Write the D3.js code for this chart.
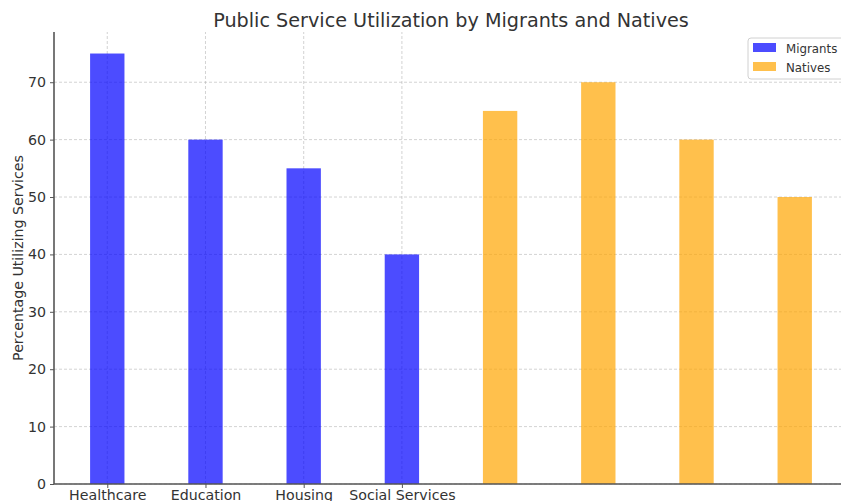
<!DOCTYPE html>
<html>
<head>
<meta charset="utf-8">
<script src="https://cdn.jsdelivr.net/npm/d3@7"></script>
<style>
  html, body { margin: 0; padding: 0; background: #fff; }
  svg { display: block; font-family: "DejaVu Sans", sans-serif; }
</style>
</head>
<body>
<svg id="chart" width="841" height="501"></svg>
<script>
// Services and survey shares (percent using each service)
const services = ["Healthcare", "Education", "Housing", "Social Services"];
const migrants = [75, 60, 55, 40];
const natives = [65, 70, 60, 50];
const yTicks = [0, 10, 20, 30, 40, 50, 60, 70];

// Bars sit at consecutive slots: migrants first, then natives
const bars = [
  ...migrants.map((v, i) => ({ slot: i, value: v, group: "Migrants" })),
  ...natives.map((v, i) => ({ slot: services.length + i, value: v, group: "Natives" }))
];
const colors = { Migrants: "#0000ff", Natives: "#ffa500" };

const svg = d3.select("#chart");
const margin = { left: 54, top: 32, right: -7, bottom: 17 };
const W = 841, H = 501;
const x0 = margin.left, x1 = W - margin.right;
const y0 = H - margin.bottom, y1 = margin.top;

const barWidth = 0.35;
const nSlots = bars.length;
const pad = (nSlots - 1 + barWidth) * 0.05;
const x = d3.scaleLinear()
  .domain([-barWidth / 2 - pad, nSlots - 1 + barWidth / 2 + pad])
  .range([x0, x1]);
const y = d3.scaleLinear().domain([0, 75 * 1.05]).range([y0, y1]);

const gridColor = "#b0b0b0";

// Grid lines
const grid = svg.append("g");
grid.selectAll("line.h").data(yTicks).join("line")
  .attr("x1", x0).attr("x2", x1)
  .attr("y1", d => y(d)).attr("y2", d => y(d))
  .attr("stroke", gridColor).attr("stroke-opacity", 0.7)
  .attr("stroke-width", 0.8).attr("stroke-dasharray", "3,2");
grid.selectAll("line.v").data(services.map((s, i) => i)).join("line")
  .attr("x1", d => x(d)).attr("x2", d => x(d))
  .attr("y1", y0).attr("y2", y1)
  .attr("stroke", gridColor).attr("stroke-opacity", 0.7)
  .attr("stroke-width", 0.8).attr("stroke-dasharray", "3,2");

// Bars
svg.append("g").selectAll("rect").data(bars).join("rect")
  .attr("x", d => x(d.slot - barWidth / 2))
  .attr("width", d => x(d.slot + barWidth / 2) - x(d.slot - barWidth / 2))
  .attr("y", d => y(d.value))
  .attr("height", d => y(0) - y(d.value))
  .attr("fill", d => colors[d.group])
  .attr("fill-opacity", 0.7);

// Axes
const textColor = "#333333";
const spineColor = "#555555";

const yAxis = svg.append("g").attr("transform", `translate(${x0},0)`)
  .call(d3.axisLeft(y).tickValues(yTicks).tickSize(4).tickPadding(4).tickFormat(d3.format("d")));
const xAxis = svg.append("g").attr("transform", `translate(0,${y0})`)
  .call(d3.axisBottom(x).tickValues(services.map((s, i) => i)).tickSize(4).tickPadding(2)
    .tickFormat(i => services[i]));

[yAxis, xAxis].forEach(g => {
  g.select(".domain").attr("stroke", spineColor).attr("stroke-width", 1.6);
  g.selectAll(".tick line").attr("stroke", spineColor).attr("stroke-width", 1);
  g.selectAll(".tick text").attr("fill", textColor).attr("font-size", 14.2)
    .attr("font-family", "DejaVu Sans, sans-serif");
});
yAxis.select(".domain").attr("d", `M0,${y0}V${y1}`);
xAxis.select(".domain").attr("d", `M${x0},0H${x1}`);

// Title
svg.append("text")
  .attr("x", (x0 + x1) / 2).attr("y", 26.5)
  .attr("text-anchor", "middle")
  .attr("font-size", 19.2).attr("fill", textColor)
  .text("Public Service Utilization by Migrants and Natives");

// Y axis label
svg.append("text")
  .attr("transform", `translate(23,${(y0 + y1) / 2}) rotate(-90)`)
  .attr("text-anchor", "middle")
  .attr("font-size", 14.2).attr("fill", textColor)
  .text("Percentage Utilizing Services");

// Legend
const legend = svg.append("g").attr("transform", "translate(748,38)");
legend.append("rect")
  .attr("x", 0).attr("y", 0).attr("width", 100).attr("height", 41)
  .attr("rx", 3).attr("fill", "#fff").attr("fill-opacity", 0.85)
  .attr("stroke", "#d0d0d0").attr("stroke-width", 1);
const groups = ["Migrants", "Natives"];
legend.selectAll("g.item").data(groups).join("g")
  .attr("transform", (d, i) => `translate(5,${5 + i * 19})`)
  .each(function (d) {
    const g = d3.select(this);
    g.append("rect").attr("width", 23).attr("height", 9).attr("y", 0)
      .attr("fill", colors[d]).attr("fill-opacity", 0.7);
    g.append("text").attr("x", 33).attr("y", 9.5)
      .attr("font-size", 11.8).attr("fill", textColor).text(d);
  });
</script>
</body>
</html>
